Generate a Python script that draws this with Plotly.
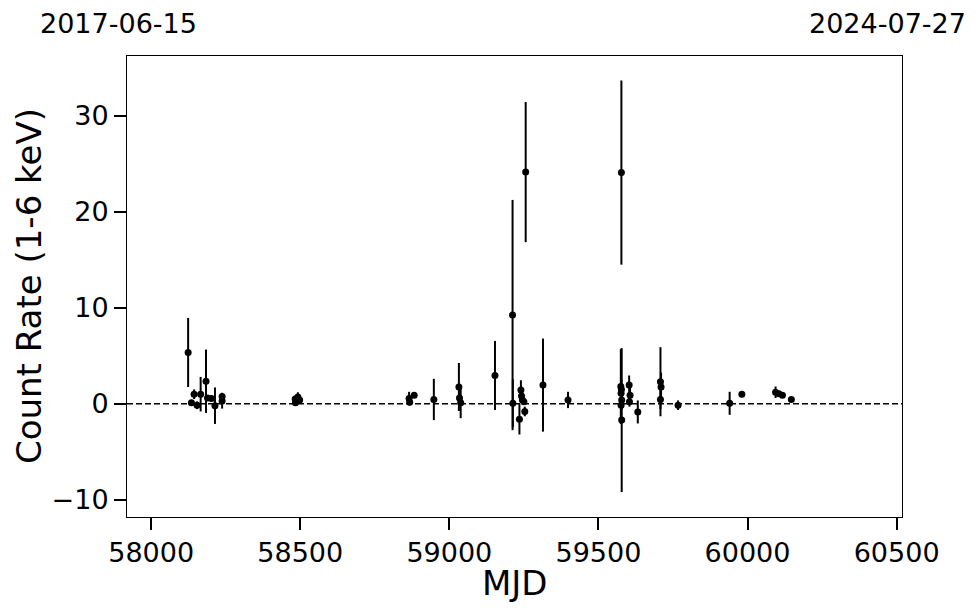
import plotly.graph_objects as go

# Observations (MJD, count rate 1-6 keV, 1-sigma error)
mjd = [58124, 58135, 58144, 58154, 58166, 58184, 58189, 58202, 58214, 58238, 58238,
       58483, 58484, 58492, 58498,
       58865, 58867, 58882, 58948, 59032, 59034, 59038, 59153,
       59212, 59213, 59235, 59240, 59242, 59245, 59250, 59253, 59256, 59314, 59398,
       59577, 59575, 59576, 59577, 59578, 59576, 59578,
       59603, 59606, 59604, 59632,
       59708, 59710, 59708, 59767,
       59940, 59981, 60094, 60105, 60117, 60147]
rate = [5.35, 0.1, 1.0, -0.15, 1.0, 2.35, 0.6, 0.55, -0.2, 0.75, 0.3,
        0.5, 0.1, 0.7, 0.4,
        0.55, 0.15, 0.9, 0.45, 1.75, 0.6, 0.1, 2.95,
        9.25, 0.05, -1.6, 1.45, 0.8, 0.4, 0.2, -0.8, 24.15, 1.95, 0.4,
        24.1, 1.8, 1.1, 1.5, 0.4, -0.15, -1.7,
        1.95, 0.9, 0.2, -0.85,
        2.3, 1.75, 0.45, -0.15,
        0.05, 1.0, 1.2, 1.05, 0.9, 0.45]
err = [3.6, 0.3, 0.5, 0.4, 1.8, 3.3, 0.3, 0.3, 1.9, 0.4, 0.8,
       0.3, 0.3, 0.5, 0.3,
       0.7, 0.3, 0.3, 2.15, 2.5, 1.0, 1.6, 3.6,
       12.0, 2.5, 1.6, 1.0, 0.5, 0.4, 0.3, 0.5, 7.3, 4.85, 0.85,
       9.6, 3.9, 0.8, 1.0, 1.0, 1.0, 7.5,
       1.0, 1.0, 0.5, 1.2,
       3.6, 1.5, 1.0, 0.5,
       1.2, 0.15, 0.6, 0.3, 0.3, 0.2]

x_ticks = [58000, 58500, 59000, 59500, 60000, 60500]
x_ticktext = ["58000", "58500", "59000", "59500", "60000", "60500"]
y_ticks = [-10, 0, 10, 20, 30]
y_ticktext = ["\u221210", "0", "10", "20", "30"]
x_range = [57919, 60518]
y_range = [-11.8, 36.25]
date_start = "2017-06-15"
date_end = "2024-07-27"

FONT = "DejaVu Sans"

fig = go.Figure()
fig.add_trace(go.Scatter(
    x=mjd, y=rate, mode="markers",
    marker=dict(color="black", size=7),
    error_y=dict(type="data", array=err, visible=True, color="black",
                 thickness=2, width=0),
    showlegend=False,
))

fig.add_shape(type="line", xref="paper", x0=0, x1=1, yref="y", y0=0, y1=0,
              line=dict(color="black", width=1.5, dash="6px,3px"), layer="below")

fig.update_layout(
    width=972, height=605,
    margin=dict(l=119, r=78, t=48, b=96),
    paper_bgcolor="white", plot_bgcolor="white",
    font=dict(family=FONT, color="black", size=27),
    xaxis=dict(range=x_range, tickvals=x_ticks, ticktext=x_ticktext,
               ticks="outside", ticklen=12,
               tickwidth=2, tickcolor="black", showgrid=False, zeroline=False,
               showline=True, linecolor="black", linewidth=1, mirror=True,
               tickfont=dict(size=27)),
    yaxis=dict(range=y_range, tickvals=y_ticks, ticktext=y_ticktext,
               ticks="outside", ticklen=12,
               tickwidth=2, tickcolor="black", showgrid=False, zeroline=False,
               showline=True, linecolor="black", linewidth=1, mirror=True,
               tickfont=dict(size=27)),
    annotations=[
        dict(text="MJD", xref="paper", yref="paper", x=0.501, y=-0.143,
             showarrow=False, font=dict(size=34), xanchor="center", yanchor="middle"),
        dict(text="Count Rate (1-6 keV)", xref="paper", yref="paper", x=-0.127, y=0.5,
             showarrow=False, font=dict(size=34), textangle=-90,
             xanchor="center", yanchor="middle"),
        dict(text=date_start, xref="paper", yref="paper", x=-0.0116, y=1.07,
             showarrow=False, font=dict(size=27), xanchor="center", yanchor="middle"),
        dict(text=date_end, xref="paper", yref="paper", x=0.981, y=1.07,
             showarrow=False, font=dict(size=27), xanchor="center", yanchor="middle"),
    ],
)

fig.write_html("out.html")
